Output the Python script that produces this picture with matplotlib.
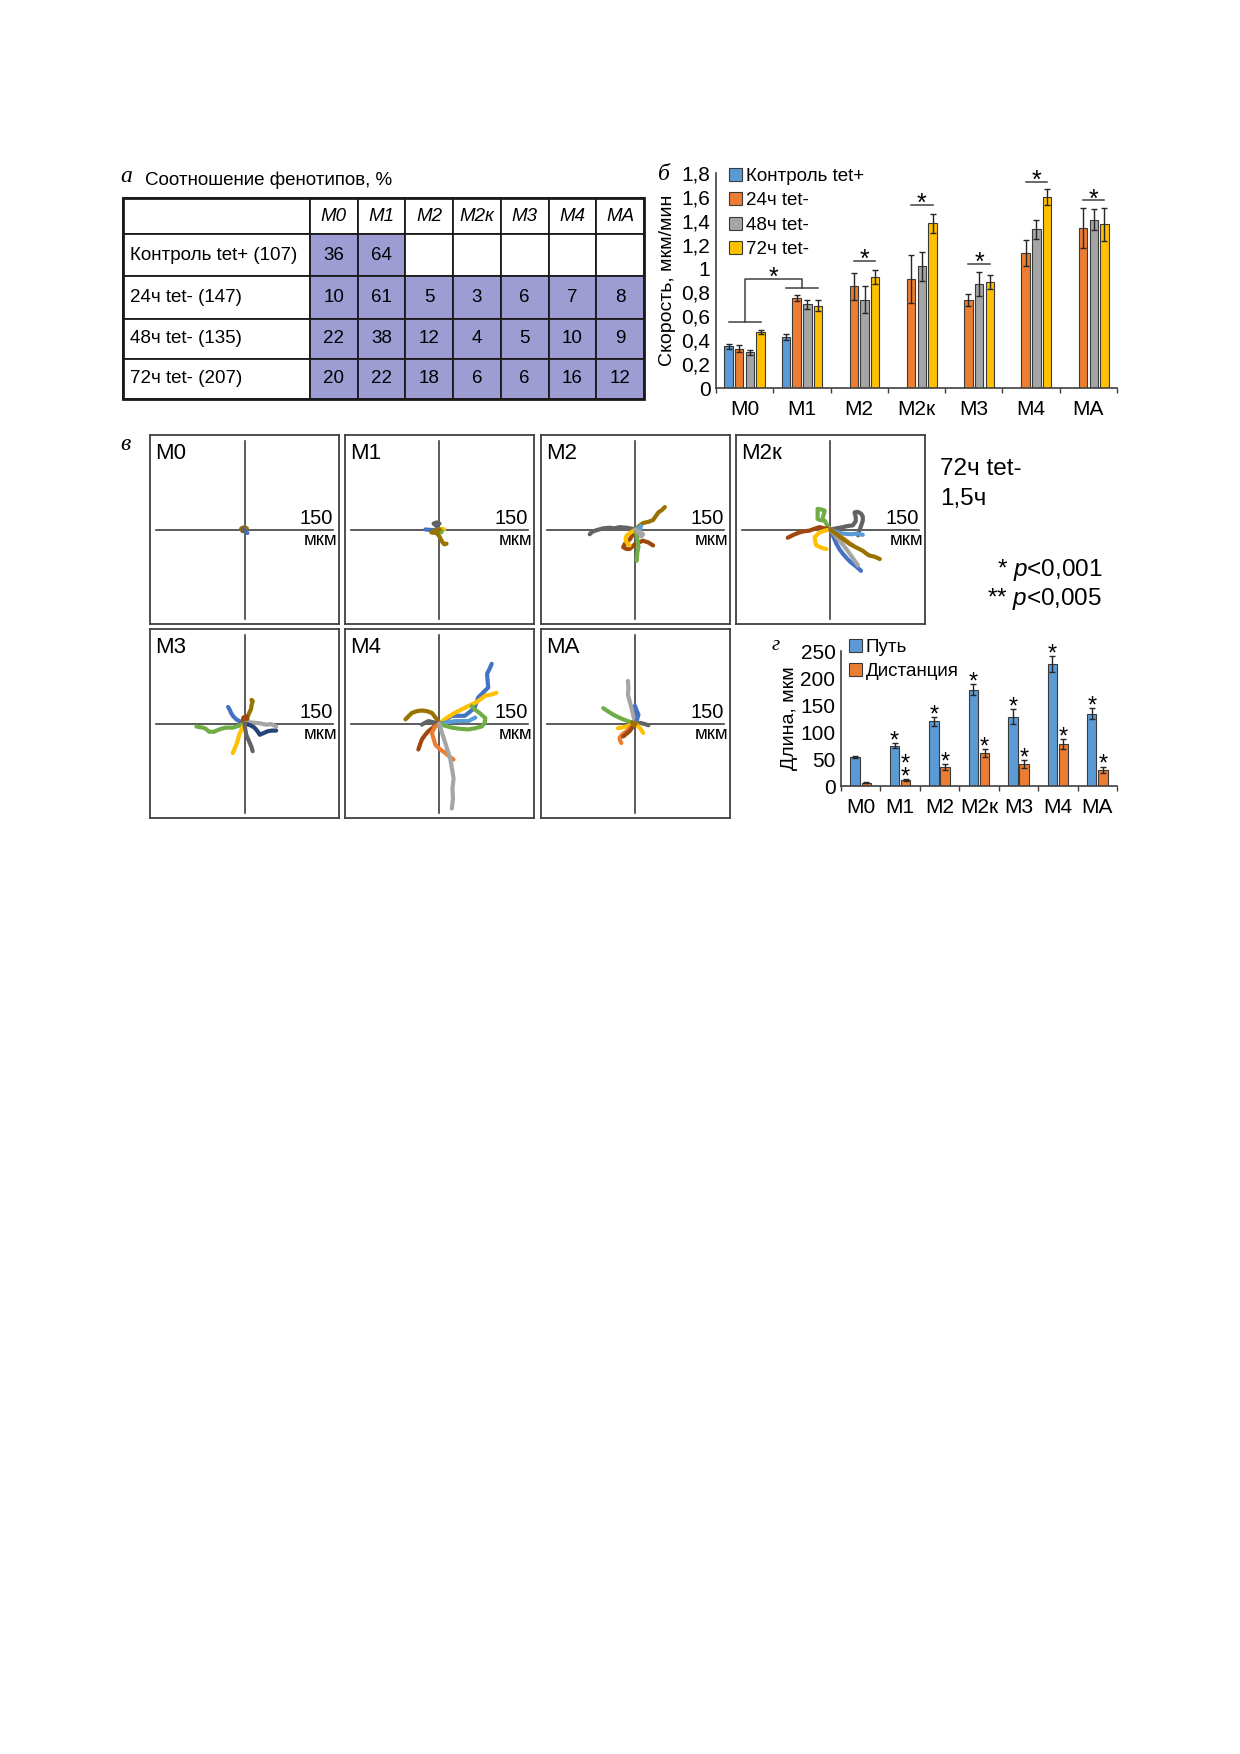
import numpy as np
import matplotlib
matplotlib.use('Agg')
import matplotlib.pyplot as plt
from matplotlib.patches import Rectangle

plt.rcParams['font.family'] = ['Liberation Sans', 'DejaVu Sans']
plt.rcParams['mathtext.fontset'] = 'custom'
plt.rcParams['mathtext.it'] = 'Liberation Sans:italic'
plt.rcParams['mathtext.rm'] = 'Liberation Sans'

# ---------- а: phenotype ratio table ----------
phenotypes = ['M0', 'M1', 'M2', 'M2к', 'M3', 'M4', 'MA']
groups = ['Контроль tet+ (107)', '24ч tet- (147)', '48ч tet- (135)', '72ч tet- (207)']
ratio = [[36, 64, None, None, None, None, None],
         [10, 61, 5, 3, 6, 7, 8],
         [22, 38, 12, 4, 5, 10, 9],
         [20, 22, 18, 6, 6, 16, 12]]

# ---------- б: speed, um/min ----------
series_b = ['Контроль tet+', '24ч tet-', '48ч tet-', '72ч tet-']
speed_ctrl = [0.35, 0.43, np.nan, np.nan, np.nan, np.nan, np.nan]
speed_24 = [0.33, 0.75, 0.85, 0.91, 0.74, 1.13, 1.34]
speed_48 = [0.30, 0.70, 0.74, 1.02, 0.87, 1.33, 1.41]
speed_72 = [0.47, 0.69, 0.93, 1.38, 0.89, 1.60, 1.37]
err_ctrl = [0.02, 0.025, np.nan, np.nan, np.nan, np.nan, np.nan]
err_24 = [0.03, 0.025, 0.11, 0.20, 0.05, 0.11, 0.17]
err_48 = [0.02, 0.04, 0.11, 0.12, 0.10, 0.08, 0.09]
err_72 = [0.015, 0.045, 0.06, 0.08, 0.06, 0.07, 0.14]
sig_level_b = [None, None, 1.064, 1.535, 1.04, 1.725, 1.57]   # 24ч..72ч brackets
m0m1_levels = [0.55, 0.91, 0.84]

# ---------- г: path / distance ----------
series_g = ['Путь', 'Дистанция']
path_len = [53, 74.5, 119.5, 178, 128, 226, 134]
path_err = [2, 5, 8, 10, 14, 15, 10]
dist_len = [6, 10.5, 35.5, 61, 41, 78, 30]
dist_err = [1, 2, 5, 8, 7, 9, 6]
path_stars = ['', '*', '*', '*', '*', '*', '*']
dist_stars = ['', '**', '*', '*', '*', '*', '*']

# ---------- в: tracks (um), series index -> Excel palette ----------
m0_tracks = [[(0, 0), (-4, 3), (-6, 1), (-3, -3), (2, -2), (4, 2), (0, 4)],
             [(0, 0), (3, -4), (5, -6)],
             [(0, 0), (-3, -2), (-1, 3)]]
m0_ids = [9, 0, 8]

m1_tracks = [[(0, 0), (-5, 6), (-10, 10), (-5, 12), (0, 10)],
             [(0, 0), (-12, -1), (-24, 0)],
             [(0, 0), (5, 1), (8, 0)],
             [(0, 0), (4, -3), (3, -5)],
             [(0, 0), (-8, -2), (-14, -5), (-5, -6), (0, -12), (4, -20), (8, -25), (12, -24)]]
m1_ids = [8, 0, 3, 5, 9]

m2_tracks = [[(0, 0), (-4, 1), (-15, 3), (-27, 4), (-36, 2), (-44, 3), (-55, 2), (-66, -1), (-74, -4), (-78, -8)],
             [(0, 0), (6, 6), (13, 11), (22, 13), (30, 16), (34, 22), (39, 29), (45, 33), (50, 38)],
             [(0, 0), (5, 3), (9, 6), (8, 0)],
             [(0, 0), (-4, -8), (-10, -17), (-18, -24), (-21, -30), (-15, -33), (-10, -33), (0, -24), (13, -19), (22, -22), (30, -27)],
             [(0, 0), (-8, -5), (-15, -10), (-17, -16), (-15, -22), (-10, -27)],
             [(0, 0), (3, -15), (5, -30), (3, -40), (2, -53)],
             [(0, 0), (5, -6), (10, -12), (13, -8), (5, -3)]]
m2_ids = [8, 9, 4, 7, 3, 5, 2]

m2k_tracks = [[(0, 0), (-6, 8), (-10, 15), (-18, 16), (-22, 18), (-22, 27), (-22, 35), (-16, 34), (-10, 32), (-11, 27), (-13, 21)],
              [(0, 0), (10, 2), (21, 4), (30, 6), (38, 7), (43, 14), (43, 21), (41, 29), (46, 30), (52, 27), (55, 22), (55, 15), (52, 6), (49, -2), (47, -10)],
              [(0, 0), (-10, 2), (-19, 4), (-28, 1), (-36, -2), (-45, -3), (-53, -5), (-63, -9), (-73, -14)],
              [(0, 0), (-10, -2), (-19, -5), (-27, -13), (-26, -20), (-24, -27), (-15, -31), (-7, -33)],
              [(0, 0), (10, -4), (21, -7), (35, -8), (45, -7), (55, -9)],
              [(0, 0), (10, -8), (20, -14), (27, -19), (32, -23), (38, -27)],
              [(0, 0), (4, -10), (10, -24), (15, -33), (21, -41), (28, -49), (35, -56), (43, -62), (52, -70)],
              [(0, 0), (8, -10), (18, -22), (27, -33), (37, -47), (47, -61)],
              [(0, 0), (10, -8), (21, -16), (32, -24), (43, -30), (55, -36), (60, -40), (66, -44), (75, -46), (84, -50)]]
m2k_ids = [5, 8, 7, 3, 4, 1, 0, 2, 9]

m3_tracks = [[(0, 0), (-7, 3), (-14, 7), (-19, 12), (-23, 18), (-25, 23), (-28, 28)],
             [(0, 0), (3, 6), (6, 13), (8, 18), (11, 24), (12, 31), (14, 38), (12, 40)],
             [(0, 0), (-3, 4), (-2, 10), (3, 12), (5, 7)],
             [(0, 0), (-10, -4), (-20, -7), (-32, -7), (-43, -10), (-52, -14), (-60, -14), (-66, -9), (-71, -7), (-78, -6), (-82, -5)],
             [(0, 0), (10, 2), (20, 1), (28, 0), (37, -2), (45, -1), (54, -5)],
             [(0, 0), (10, -3), (17, -7), (22, -13), (26, -19), (33, -16), (40, -13), (47, -12), (54, -12)],
             [(0, 0), (-4, -8), (-9, -19), (-11, -27), (-14, -36), (-17, -43), (-20, -50)],
             [(0, 0), (1, -8), (3, -19), (6, -26), (9, -33), (12, -40), (14, -47)]]
m3_ids = [0, 9, 7, 5, 2, 6, 3, 8]

m4_tracks = [[(0, 0), (10, 6), (21, 13), (32, 13), (43, 13), (52, 20), (60, 27), (63, 36), (66, 44), (74, 52), (83, 61), (82, 72), (81, 84), (85, 92), (89, 101)],
             [(0, 0), (10, 8), (21, 15), (30, 20), (38, 24), (50, 30), (61, 35), (70, 41), (78, 47), (88, 49), (97, 52)],
             [(0, 0), (14, 2), (27, 4), (38, 4), (49, 4), (55, 7), (61, 10)],
             [(0, 0), (10, -4), (21, -7), (35, -9), (49, -10), (61, -8), (72, -5), (77, 1), (78, 9), (68, 18), (60, 24), (55, 29)],
             [(0, 0), (-6, 9), (-13, 18), (-22, 21), (-30, 22), (-38, 21), (-47, 18), (-53, 12), (-58, 7)],
             [(0, 0), (-10, 2), (-19, 4), (-25, 1), (-30, -2)],
             [(0, 0), (-10, -6), (-19, -13), (-25, -20), (-30, -27), (-33, -35), (-36, -44)],
             [(0, 0), (-8, -6), (-13, -16), (-10, -26), (-7, -36), (0, -43), (10, -50), (17, -56), (24, -61)],
             [(0, 0), (3, -12), (7, -24), (12, -40), (18, -58), (21, -75), (24, -93), (22, -110), (23, -127), (21, -144)]]
m4_ids = [0, 3, 4, 5, 9, 8, 7, 1, 2]

ma_tracks = [[(0, 0), (-4, 14), (-7, 27), (-10, 38), (-13, 49), (-12, 60), (-13, 72)],
             [(0, 0), (-10, 3), (-21, 7), (-30, 11), (-38, 15), (-46, 20), (-55, 26)],
             [(0, 0), (3, 8), (5, 15), (2, 22), (-1, 30)],
             [(0, 0), (8, 1), (16, -1), (22, -3)],
             [(0, 0), (-12, -4), (-24, -7), (-30, -8)],
             [(0, 0), (8, -8), (13, -16)],
             [(0, 0), (-8, -6), (-15, -13), (-22, -18), (-27, -24), (-26, -30), (-24, -33)],
             [(0, 0), (-5, -6), (-10, -13), (-16, -18), (-21, -22)],
             [(0, 0), (-3, -3), (-6, 2)]]
ma_ids = [2, 5, 0, 8, 3, 3, 1, 7, 9]

palette = ['#4472C4', '#ED7D31', '#A5A5A5', '#FFC000', '#5B9BD5',
           '#70AD47', '#264478', '#9E480E', '#636363', '#997300']

W, H = 1240, 1754
fig = plt.figure(figsize=(W / 100, H / 100), dpi=100)
fig.patch.set_facecolor('white')


def box(x0, y0, x1, y1):
    return [x0 / W, 1 - y1 / H, (x1 - x0) / W, (y1 - y0) / H]


def ftext(x, y, s, **kw):
    fig.text(x / W, 1 - y / H, s, **kw)


dark = '#404040'
fs = 13.5      # table, legends, axis titles
fs_tick = 15   # chart tick labels

# ---------------- а ----------------
ftext(126, 176, 'а', fontsize=17, style='italic', family='Liberation Serif', ha='center', va='center')
ftext(145, 180, 'Соотношение фенотипов, %', fontsize=fs, va='center')

ax_t = fig.add_axes(box(123, 198, 644, 399))
ax_t.axis('off')
cell_text = [[''] + phenotypes]
colours = [['white'] * 8]
for g, row in zip(groups, ratio):
    cell_text.append([g] + ['' if v is None else str(v) for v in row])
    colours.append(['white'] + ['white' if v is None else '#9d9cd3' for v in row])
tbl = ax_t.table(cellText=cell_text, cellColours=colours, colWidths=[187] + [47.7] * 7,
                 bbox=[0, 0, 1, 1], cellLoc='center')
tbl.auto_set_font_size(False)
tbl.set_fontsize(fs)
row_h = [36, 42, 42, 40, 40]
for (r, c), cell in tbl.get_celld().items():
    cell.set_height(row_h[r])
    cell.set_linewidth(1.3)
    cell.set_edgecolor('#1a1a1a')
    if c == 0:
        cell._loc = 'left'
        cell.PAD = 0.04
        cell.get_text().set_ha('left')
    if r == 0:
        cell.get_text().set_fontstyle('italic')
ax_t.add_patch(Rectangle((0, 0), 1, 1, transform=ax_t.transAxes, fill=False,
                         lw=2, ec='#1a1a1a', clip_on=False))

# ---------------- б ----------------
ftext(664, 174, 'б', fontsize=17, style='italic', family='Liberation Serif', ha='center', va='center')
ax_b = fig.add_axes(box(716, 173, 1117, 388))
xc = np.arange(7) + 0.5
offs = [-0.28, -0.094, 0.094, 0.28]
bw = 0.147
cols_b = ['#5B9BD5', '#ED7D31', '#A5A5A5', '#FFC000']
vals_b = [speed_ctrl, speed_24, speed_48, speed_72]
errs_b = [err_ctrl, err_24, err_48, err_72]
for i in range(4):
    v = np.array(vals_b[i])
    e = np.array(errs_b[i])
    m = ~np.isnan(v)
    ax_b.bar(xc[m] + offs[i], v[m], width=bw, color=cols_b[i], edgecolor='#3a3a3a',
             linewidth=0.8, yerr=e[m], label=series_b[i],
             error_kw=dict(ecolor='#262626', elinewidth=1, capsize=2, capthick=1))

ax_b.set_xlim(0, 7)
ax_b.set_ylim(0, 1.8)
ax_b.set_yticks(np.arange(0, 1.81, 0.2))
ax_b.set_yticklabels([('%g' % t).replace('.', ',') for t in np.arange(0, 1.81, 0.2)])
ax_b.set_xticks(np.arange(8))
ax_b.set_xticklabels([])
ax_b.set_xticks(xc, minor=True)
ax_b.set_xticklabels(phenotypes, minor=True)
ax_b.tick_params(axis='x', which='major', length=3.5, color=dark, width=1)
ax_b.tick_params(axis='x', which='minor', length=0, pad=8.5, labelsize=fs_tick)
ax_b.tick_params(axis='y', length=0, pad=4, labelsize=fs_tick)
for s in ['top', 'right']:
    ax_b.spines[s].set_visible(False)
for s in ['left', 'bottom']:
    ax_b.spines[s].set_color(dark)
    ax_b.spines[s].set_linewidth(1.2)
ax_b.set_ylabel('Скорость, мкм/мин', fontsize=14, labelpad=4)
ax_b.patch.set_alpha(0)

# brackets
lk = dict(color=dark, lw=1.1, clip_on=False)
for k, lev in enumerate(sig_level_b):
    if lev is None:
        continue
    x0, x1 = xc[k] + offs[1], xc[k] + offs[3]
    ax_b.plot([x0, x1], [lev, lev], **lk)
    ax_b.text((x0 + x1) / 2, lev - 0.05, '*', ha='center', va='baseline', fontsize=18, clip_on=False)
l0, l1, l2 = m0m1_levels
ax_b.plot([xc[0] + offs[0], xc[0] + offs[3]], [l0, l0], **lk)
ax_b.plot([xc[0], xc[0], xc[1], xc[1]], [l0, l1, l1, l2], **lk)
ax_b.plot([xc[1] + offs[0], xc[1] + offs[3]], [l2, l2], **lk)
ax_b.text((xc[0] + xc[1]) / 2, l1 - 0.05, '*', ha='center', va='baseline', fontsize=18)

leg = ax_b.legend(loc='upper left', bbox_to_anchor=((729 - 716) / 401, (388 - 168) / 215),
                  frameon=False, fontsize=fs, handlelength=0.7, handleheight=0.7,
                  handletextpad=0.2, labelspacing=0.38, borderpad=0, borderaxespad=0)

# ---------------- в ----------------
ftext(125, 444, 'в', fontsize=17, style='italic', family='Liberation Serif', ha='center', va='center')
panels = [('M0', m0_tracks, m0_ids, 150, 435), ('M1', m1_tracks, m1_ids, 345, 435),
          ('M2', m2_tracks, m2_ids, 541, 435), ('M2к', m2k_tracks, m2k_ids, 736, 435),
          ('M3', m3_tracks, m3_ids, 150, 629), ('M4', m4_tracks, m4_ids, 345, 629),
          ('MA', ma_tracks, ma_ids, 541, 629)]
for name, tracks, ids, px, py in panels:
    ax = fig.add_axes(box(px, py, px + 189, py + 189))
    ax.set_xlim(-161, 161)
    ax.set_ylim(-160, 160)
    ax.set_xticks([])
    ax.set_yticks([])
    for s in ax.spines.values():
        s.set_color(dark)
        s.set_linewidth(1.3)
    ax.plot([-150, 150], [0, 0], color=dark, lw=1.2)
    ax.plot([0, 0], [-152, 150], color=dark, lw=1.2)
    for tr, idx in zip(tracks, ids):
        xy = np.array(tr)
        ax.plot(xy[:, 0], xy[:, 1], color=palette[idx], lw=3, solid_capstyle='round',
                solid_joinstyle='round')
    ax.text(151, 3, '150', ha='right', va='bottom', fontsize=14.5)
    ax.text(158, -5, 'мкм', ha='right', va='top', fontsize=13.5)
    ax.text(-153, 146, name, ha='left', va='top', fontsize=16)

ftext(940, 469, '72ч tet-', fontsize=17.5, va='center')
ftext(940, 499, '1,5ч', fontsize=17.5, va='center')
ftext(1102, 570, '* $p$<0,001', fontsize=17.5, va='center', ha='right')
ftext(1102, 599, '** $p$<0,005', fontsize=17.5, va='center', ha='right')

# ---------------- г ----------------
ftext(776, 645, 'г', fontsize=15, style='italic', family='Liberation Serif', ha='center', va='center')
ax_g = fig.add_axes(box(841, 651, 1117, 786))
gw = 0.24
go = 0.14
ax_g.bar(xc - go, path_len, width=gw, color='#5B9BD5', edgecolor='#3a3a3a', linewidth=0.8,
         yerr=path_err, label=series_g[0],
         error_kw=dict(ecolor='#262626', elinewidth=1, capsize=2, capthick=1))
ax_g.bar(xc + go, dist_len, width=gw, color='#ED7D31', edgecolor='#3a3a3a', linewidth=0.8,
         yerr=dist_err, label=series_g[1],
         error_kw=dict(ecolor='#262626', elinewidth=1, capsize=2, capthick=1))
for k in range(7):
    if path_stars[k]:
        ax_g.text(xc[k] - go, path_len[k] + path_err[k] - 8, '*', ha='center', va='baseline',
                  fontsize=17, clip_on=False)
    if dist_stars[k]:
        # stacked stars drawn as one text, one per line
        ax_g.text(xc[k] + go, dist_len[k] + dist_err[k] - 8, '\n'.join(dist_stars[k]),
                  ha='center', va='baseline', fontsize=17, linespacing=0.5, clip_on=False)
ax_g.set_xlim(0, 7)
ax_g.set_ylim(0, 250)
ax_g.set_yticks(np.arange(0, 251, 50))
ax_g.set_xticks(np.arange(8))
ax_g.set_xticklabels([])
ax_g.set_xticks(xc, minor=True)
ax_g.set_xticklabels(phenotypes, minor=True)
ax_g.tick_params(axis='x', which='major', length=3.5, color=dark, width=1)
ax_g.tick_params(axis='x', which='minor', length=0, pad=8.5, labelsize=fs_tick)
ax_g.tick_params(axis='y', length=0, pad=4, labelsize=fs_tick)
for s in ['top', 'right']:
    ax_g.spines[s].set_visible(False)
for s in ['left', 'bottom']:
    ax_g.spines[s].set_color(dark)
    ax_g.spines[s].set_linewidth(1.2)
ax_g.set_ylabel('Длина, мкм', fontsize=14, labelpad=2)
ax_g.patch.set_alpha(0)
ax_g.legend(loc='upper left', bbox_to_anchor=((849 - 841) / 276, (786 - 639) / 135),
            frameon=False, fontsize=fs, handlelength=0.7, handleheight=0.7,
            handletextpad=0.2, labelspacing=0.36, borderpad=0, borderaxespad=0)

fig.savefig('out.png', dpi=100, facecolor='white')
